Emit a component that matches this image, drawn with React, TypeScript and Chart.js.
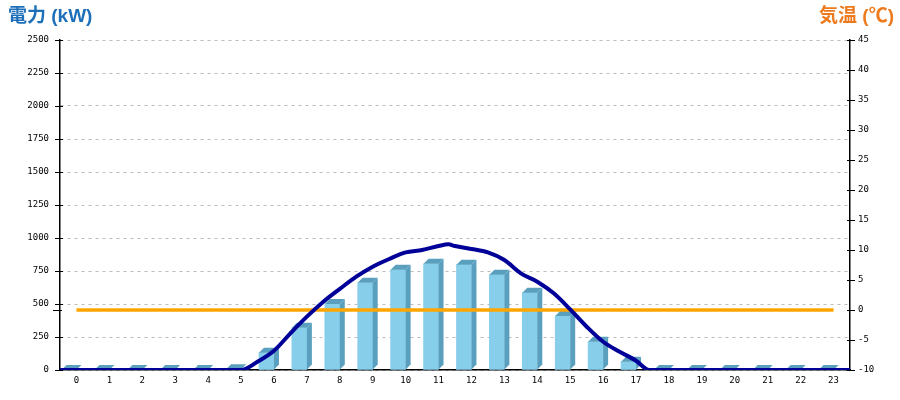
import React, { useEffect, useRef } from "react";
import { Chart, registerables } from "chart.js";

Chart.register(...registerables);

const hours: string[] = Array.from({ length: 24 }, (_, i) => String(i));
const barPowerKW: number[] = [0, 0, 0, 0, 0, 5, 131, 320, 500, 661, 760, 805, 798, 722, 586, 409, 214, 63, 0, 0, 0, 0, 0, 0];
const curveHours: number[] = [-0.5, 5, 5.5, 6, 6.5, 7, 7.5, 8, 8.5, 9, 9.5, 10, 10.5, 11, 11.3, 11.5, 12, 12.5, 13, 13.5, 14, 14.5, 15, 15.5, 16, 16.5, 17, 17.4, 23.5];
const curvePowerKW: number[] = [0, 0, 63, 146, 278, 404, 517, 614, 707, 783, 841, 891, 909, 939, 952, 939, 917, 891, 833, 732, 669, 581, 459, 328, 214, 139, 70, 0, 0];
const temperatureC: number[] = [0, 0, 0, 0, 0, 0, 0, 0, 0, 0, 0, 0, 0, 0, 0, 0, 0, 0, 0, 0, 0, 0, 0, 0];
const leftTitle = "電力 (kW)";
const rightTitle = "気温 (℃)";

const FRONT = "#87CEEB";
const SIDE = "#5AA0BE";
const DEPTH = 5;

const bar3d = {
  id: "bar3d",
  afterDatasetDraw(chart: any, args: any) {
    if (args.index !== 0) return;
    const ctx = chart.ctx;
    ctx.save();
    ctx.fillStyle = SIDE;
    args.meta.data.forEach((el: any) => {
      const { x, y, base, width } = el.getProps(["x", "y", "base", "width"], true);
      const l = x - width / 2;
      const r = x + width / 2;
      const top = Math.min(y, base);
      const bot = base;
      ctx.beginPath();
      ctx.moveTo(l, top);
      ctx.lineTo(l + DEPTH, top - DEPTH);
      ctx.lineTo(r + DEPTH, top - DEPTH);
      ctx.lineTo(r, top);
      ctx.closePath();
      ctx.fill();
      ctx.beginPath();
      ctx.moveTo(r, top);
      ctx.lineTo(r + DEPTH, top - DEPTH);
      ctx.lineTo(r + DEPTH, bot - DEPTH);
      ctx.lineTo(r, bot);
      ctx.closePath();
      ctx.fill();
    });
    ctx.restore();
  },
};

const decor = {
  id: "decor",
  afterDraw(chart: any) {
    const ctx = chart.ctx;
    const { left, right } = chart.chartArea;
    const y = chart.scales.y;
    const y2 = chart.scales.y2;
    ctx.save();
    ctx.strokeStyle = "#000";
    ctx.lineWidth = 1.2;
    ctx.beginPath();
    y.ticks.forEach((t: any) => {
      const p = Math.round(y.getPixelForValue(t.value)) + 0.5;
      ctx.moveTo(left - 5, p);
      ctx.lineTo(left + 3, p);
    });
    y2.ticks.forEach((t: any) => {
      const p = Math.round(y2.getPixelForValue(t.value)) + 0.5;
      ctx.moveTo(right - 3, p);
      ctx.lineTo(right + 5, p);
    });
    const z = Math.round(y2.getPixelForValue(0)) + 0.5;
    ctx.moveTo(left - 7, z);
    ctx.lineTo(left + 2, z);
    ctx.stroke();

    ctx.textBaseline = "top";
    ctx.font = 'bold 19px "Liberation Sans", "Noto Sans CJK JP", sans-serif';
    ctx.fillStyle = "#1c6fb8";
    ctx.textAlign = "left";
    ctx.fillText(leftTitle, 8, 7);
    ctx.fillStyle = "#ee7a1e";
    ctx.textAlign = "right";
    ctx.fillText(rightTitle, 894, 7);
    ctx.restore();
  },
};

const tickFont = { family: '"DejaVu Sans Mono", monospace', size: 9 };
const plain = (v: any) => String(v);

export default function App() {
  const ref = useRef<HTMLCanvasElement | null>(null);
  useEffect(() => {
    document.body.style.margin = "0";
    const canvas = ref.current;
    if (!canvas) return;
    const chart = new Chart(canvas, {
      data: {
        labels: hours,
        datasets: [
          {
            type: "bar",
            data: barPowerKW,
            backgroundColor: FRONT,
            borderWidth: 0,
            barThickness: 15,
            xAxisID: "x",
            yAxisID: "y",
            order: 3,
          },
          {
            type: "line",
            data: curveHours.map((h, i) => ({ x: h, y: curvePowerKW[i] })),
            borderColor: "#000099",
            borderWidth: 4,
            pointRadius: 0,
            cubicInterpolationMode: "monotone",
            xAxisID: "x2",
            yAxisID: "y",
            order: 1,
          },
          {
            type: "line",
            data: temperatureC,
            borderColor: "#FFA500",
            borderWidth: 3.5,
            pointRadius: 0,
            xAxisID: "x",
            yAxisID: "y2",
            order: 2,
          },
        ],
      } as any,
      options: {
        responsive: false,
        animation: false,
        layout: { padding: { top: 40, left: 0, right: 0, bottom: 0 } },
        plugins: { legend: { display: false }, tooltip: { enabled: false } },
        scales: {
          x: {
            type: "category",
            offset: true,
            grid: { display: false, drawTicks: false },
            border: { display: true, color: "#000", width: 1.5 },
            ticks: { color: "#000", font: tickFont, padding: 5, maxRotation: 0, autoSkip: false },
            afterFit: (s: any) => { s.height = 30; },
          },
          x2: {
            type: "linear",
            display: false,
            min: -0.5,
            max: 23.5,
          },
          y: {
            position: "left",
            min: 0,
            max: 2500,
            ticks: { stepSize: 250, color: "#000", font: tickFont, padding: 11, callback: plain },
            grid: { color: "#bbbbbb", drawTicks: false, lineWidth: 1 },
            border: { display: true, color: "#000", width: 1.5, dash: [3, 4] },
            afterFit: (s: any) => { s.width = 60; },
          },
          y2: {
            position: "right",
            min: -10,
            max: 45,
            ticks: { stepSize: 5, color: "#000", font: tickFont, padding: 8, callback: plain },
            grid: { display: false, drawTicks: false },
            border: { display: true, color: "#000", width: 1.5 },
            afterFit: (s: any) => { s.width = 50; },
          },
        },
      } as any,
      plugins: [bar3d, decor],
    });
    return () => chart.destroy();
  }, []);
  return (
    <div style={{ width: 900, height: 400 }}>
      <canvas ref={ref} width={900} height={400} />
    </div>
  );
}
